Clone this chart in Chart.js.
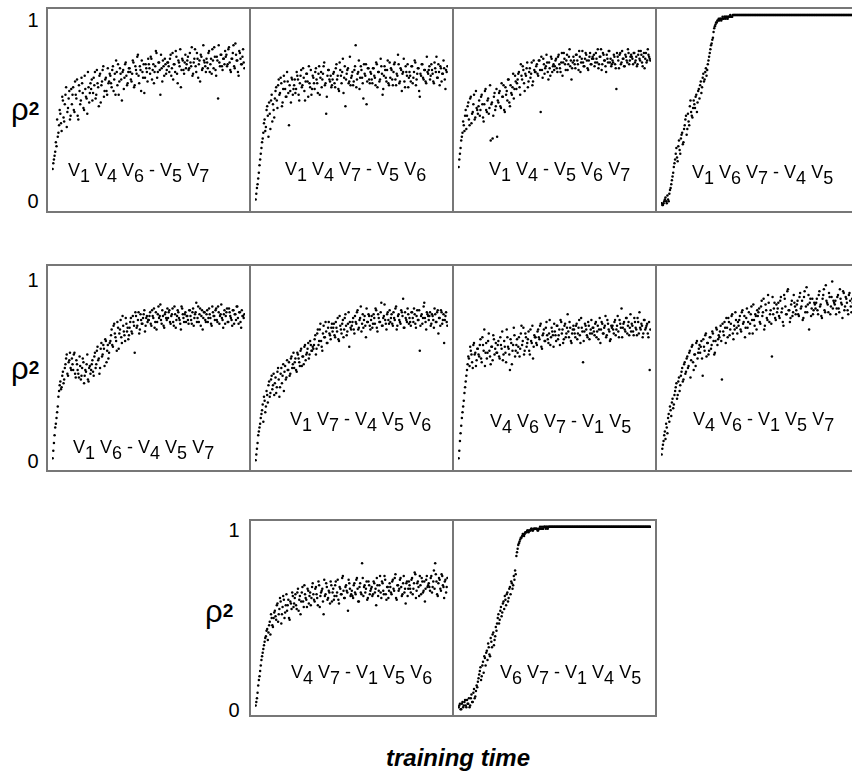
<!DOCTYPE html>
<html>
<head>
<meta charset="utf-8">
<script src="https://cdn.jsdelivr.net/npm/chart.js@4.4.1/dist/chart.umd.min.js"></script>
<style>
body { margin:0; width:852px; height:780px; overflow:hidden; background:#fff; position:relative;
  font-family:"Liberation Sans", Arial, sans-serif; color:#000; }
.panel { position:absolute; box-sizing:border-box; border:2px solid #777; }
.panel canvas { display:block; }
.lbl { position:absolute; font-size:18px; line-height:18px; white-space:nowrap; }
.lbl span { position:relative; top:6px; }
.tick { position:absolute; width:24px; text-align:center; font-size:20px; line-height:20px; }
.rho { position:absolute; font-size:31px; line-height:32px; }
.rho span { font-size:19px; font-weight:bold; vertical-align:5px; }
#xtitle { position:absolute; left:258px; width:400px; top:744px; text-align:center;
  font-size:24px; font-weight:bold; font-style:italic; }
</style>
</head>
<body>
<div id="xtitle">training time</div>
<script>
// rho^2 (in %) over training time.
// each panel: values at even time steps, then values at odd time steps

// row 1
const v146_v57 = [
19,24,28,31,36,42,48,39,55,44,58,41,51,60,47,
53,62,49,58,66,45,60,55,64,51,68,57,48,62,59,
61,55,67,70,58,64,52,69,63,71,57,66,60,72,65,
68,62,73,66,58,70,74,65,69,55,71,67,75,63,70,
72,66,69,75,63,71,78,68,73,60,70,74,67,72,65,
74,69,77,71,64,73,80,70,75,58,72,76,68,74,71,
75,70,79,72,66,74,81,69,76,73,62,77,71,75,72,
76,71,80,73,68,75,82,70,77,74,65,78,72,76,73,
77,72,81,74,69,76,83,71,78,56,75,79,73,77,74,
78,73,82,75,70,77,84,72,79,76,68,80,74,78,75];
const v146_v57_odd = [
22,26,33,45,38,50,43,57,46,53,62,49,56,45,61,
58,50,65,56,47,63,53,67,59,50,61,56,70,54,64,
66,59,63,56,71,62,68,54,65,73,60,67,58,64,69,
64,71,60,69,76,63,58,72,66,70,61,74,68,64,72,
70,65,76,62,73,69,79,64,71,76,67,59,74,70,77,
72,78,66,74,70,81,67,75,71,79,65,73,77,69,75,
73,77,68,80,74,70,78,64,75,82,71,76,69,79,74,
78,72,75,83,69,77,73,80,67,76,79,71,84,75,70,
75,80,70,77,82,72,78,68,76,84,73,79,71,77,81,
79,74,83,71,77,80,73,85,76,70,81,77,74,82,72];

const v147_v56 = [
3,9,14,21,27,33,38,45,41,52,36,48,55,44,50,
56,62,51,66,59,64,54,68,61,57,65,42,60,67,58,
63,59,70,66,55,68,62,72,60,65,69,57,64,71,61,
67,61,72,64,69,58,70,66,73,63,48,68,71,65,62,
66,70,62,74,68,60,71,64,77,67,52,69,72,65,63,
68,63,71,84,66,70,61,73,67,56,69,74,65,72,64,
69,64,72,67,75,62,70,66,73,58,68,71,65,76,63,
67,71,63,74,66,69,79,64,72,60,70,65,73,68,62,
70,65,73,67,76,63,69,72,57,68,74,66,71,64,70,
71,66,74,69,64,72,78,67,70,73,65,69,72,61,70];
const v147_v56_odd = [
6,11,17,24,30,35,43,39,50,47,54,40,58,53,46,
60,55,63,58,67,52,61,65,57,70,59,63,54,66,61,
66,61,68,58,64,71,63,67,55,69,65,73,62,58,68,
64,70,66,59,73,67,62,69,75,64,57,71,66,68,63,
69,64,72,66,61,75,68,70,59,73,66,71,64,78,67,
70,65,73,62,69,76,67,71,64,74,68,53,72,66,70,
66,72,68,63,74,70,65,77,69,61,73,67,71,64,75,
72,66,70,75,63,68,74,65,71,69,77,62,70,74,67,
68,73,64,70,75,66,72,60,69,74,67,71,65,78,69,
73,68,71,65,75,70,67,74,63,72,69,76,66,71,73];

const v14_v567 = [
20,27,34,38,42,47,40,52,45,56,43,49,58,46,51,
48,55,50,58,46,53,61,49,56,51,34,54,47,59,52,
36,54,60,51,57,63,49,58,55,66,52,59,62,56,68,
61,66,70,58,68,73,64,69,72,62,70,67,75,65,71,
70,74,68,76,49,71,77,69,73,75,66,72,78,70,74,
73,77,70,79,72,75,68,80,74,76,71,78,73,66,75,
76,72,79,74,81,70,77,75,73,80,76,71,78,74,77,
77,73,80,75,72,78,82,74,79,76,70,77,81,75,73,
76,79,74,61,78,72,80,75,77,73,79,76,82,74,78,
78,74,80,76,73,79,77,81,75,78,72,80,76,79,77];
const v14_v567_odd = [
24,30,36,44,39,50,47,54,42,57,48,53,45,60,50,
52,47,57,53,44,60,50,55,48,63,53,35,57,50,61,
55,59,52,64,57,50,62,60,66,54,63,58,69,61,65,
64,69,62,74,66,71,60,68,75,65,72,69,63,76,70,
73,69,76,71,78,67,74,72,79,70,75,68,77,73,71,
76,72,78,74,70,80,75,77,71,79,74,82,76,72,78,
74,79,76,71,78,75,81,73,77,79,72,76,80,74,78,
79,75,77,82,74,78,71,80,76,73,79,75,81,77,74,
75,78,72,80,76,79,74,81,77,73,78,75,80,76,79,
77,80,75,78,74,81,76,79,73,80,77,75,82,78,76];

const v167_v45 = [
1,0,2,4,1,3,6,9,13,17,22,27,25,31,29,
35,38,33,42,47,40,44,52,49,46,55,51,58,54,61,
63,59,67,65,70,68,74,78,82,85,88,93,95,96,97,
97,98,98,98,99,98,99,99,99,99,99,100,100,100,100,
100,100,100,100,100,100,100,100,100,100,100,100,100,100,100,
100,100,100,100,100,100,100,100,100,100,100,100,100,100,100,
100,100,100,100,100,100,100,100,100,100,100,100,100,100,100,
100,100,100,100,100,100,100,100,100,100,100,100,100,100,100,
100,100,100,100,100,100,100,100,100,100,100,100,100,100,100,
100,100,100,100,100,100,100,100,100,100,100,100,100,100,100];
const v167_v45_odd = [
0,1,3,2,5,2,8,11,15,20,24,30,23,34,27,
37,32,40,45,37,48,42,55,47,51,53,57,49,60,56,
65,62,69,66,72,71,76,80,84,87,91,94,96,97,98,
98,97,99,98,99,99,98,99,100,99,100,100,100,100,100,
100,100,100,100,100,100,100,100,100,100,100,100,100,100,100,
100,100,100,100,100,100,100,100,100,100,100,100,100,100,100,
100,100,100,100,100,100,100,100,100,100,100,100,100,100,100,
100,100,100,100,100,100,100,100,100,100,100,100,100,100,100,
100,100,100,100,100,100,100,100,100,100,100,100,100,100,100,
100,100,100,100,100,100,100,100,100,100,100,100,100,100,100];

// row 2
const v16_v457 = [
3,11,19,24,30,38,43,40,48,44,52,57,46,54,50,
55,49,58,45,52,47,56,44,50,53,46,48,57,43,51,
49,54,46,58,52,61,55,50,63,57,60,65,53,62,58,
64,70,61,73,66,59,71,68,75,63,72,67,76,69,65,
71,76,68,74,58,77,72,79,70,75,73,78,69,76,74,
75,79,72,77,81,74,70,78,76,83,73,77,71,79,75,
76,80,73,78,74,82,71,77,79,75,70,81,76,78,74,
77,73,80,75,79,72,78,84,76,74,81,77,70,79,75,
78,74,81,76,72,79,77,80,75,82,73,78,76,71,80,
77,81,74,79,76,72,80,78,75,82,73,79,71,77,76];
const v16_v457_odd = [
7,15,21,27,35,41,39,46,42,50,55,47,53,58,49,
52,57,47,54,49,45,51,46,55,42,49,52,44,50,47,
52,48,56,50,59,54,47,60,56,62,51,64,59,55,63,
67,62,72,68,64,74,60,70,66,77,69,64,73,71,67,
74,69,77,72,79,71,75,68,78,73,76,80,72,77,75,
77,73,80,76,71,79,74,82,77,75,80,72,78,76,81,
79,74,77,81,72,78,75,80,76,73,82,78,74,79,77,
75,80,77,73,81,76,79,74,82,78,72,80,76,79,74,
80,76,78,73,82,77,75,81,74,79,77,83,75,78,73,
79,74,81,77,75,80,73,78,82,76,79,74,80,77,78];

const v17_v456 = [
2,8,15,19,24,28,22,33,30,36,41,35,44,39,47,
42,37,48,44,40,50,46,38,51,45,49,53,47,56,52,
50,55,48,57,53,59,51,56,61,54,58,63,57,62,59,
60,65,57,68,62,70,64,59,72,66,69,63,74,67,71,
69,73,66,71,76,64,72,68,75,70,78,67,73,61,71,
72,76,68,74,79,70,75,82,73,71,77,66,74,78,72,
75,71,78,73,80,69,76,74,84,72,77,75,70,79,73,
74,78,72,76,81,70,77,75,73,79,86,71,76,74,78,
76,72,79,74,78,71,80,75,59,77,73,82,76,70,78,
75,79,73,77,71,78,74,80,76,72,79,75,63,77,74];
const v17_v456_odd = [
5,11,17,21,26,31,35,27,38,32,43,37,46,41,36,
45,40,50,35,47,42,52,48,44,54,49,46,55,50,58,
53,49,58,55,51,60,56,52,62,57,60,55,64,59,61,
62,67,60,70,64,73,61,68,66,74,63,71,68,65,73,
71,67,74,69,65,77,70,73,66,76,72,69,79,74,70,
74,70,77,73,80,71,76,69,78,75,72,81,74,77,70,
77,73,76,81,71,78,74,79,72,76,83,73,78,75,80,
76,73,79,75,82,72,78,74,80,77,71,79,75,81,73,
74,79,76,81,73,77,75,80,72,78,76,84,74,79,77,
77,72,78,75,81,74,79,68,76,80,73,78,75,79,72];

const v467_v15 = [
3,12,20,27,33,40,46,52,55,61,57,50,63,58,54,
60,56,65,53,62,70,58,55,64,59,52,61,67,57,63,
58,64,55,62,69,57,61,53,66,60,49,63,59,71,56,
62,58,66,60,72,64,57,68,61,65,59,70,63,55,67,
66,62,70,65,73,60,68,64,71,67,63,75,66,69,61,
69,64,72,67,62,74,70,65,73,68,78,66,71,63,70,
70,66,73,68,75,63,71,53,69,72,67,74,65,70,68,
71,67,74,69,65,76,70,73,68,72,66,75,70,64,72,
72,68,75,70,77,66,73,81,71,74,69,76,72,67,78,
73,69,76,71,67,74,79,70,72,68,75,71,73,66,49];
const v467_v15_odd = [
7,16,24,30,37,43,49,56,51,59,53,62,57,51,60,
57,62,55,66,59,51,63,58,68,56,61,54,65,60,58,
62,56,66,60,54,64,58,70,61,57,65,52,62,67,59,
65,61,56,68,62,71,59,66,63,69,57,64,72,61,66,
63,69,66,72,61,67,70,64,74,65,68,62,71,67,73,
67,72,65,70,75,68,63,72,66,71,69,74,64,68,72,
68,72,65,71,67,76,69,64,73,70,66,72,68,75,71,
69,73,66,72,70,63,74,68,71,77,67,73,69,65,71,
70,74,67,72,69,75,71,66,73,70,76,68,74,71,69,
72,67,74,70,76,68,71,73,66,75,70,72,68,74,70];

const v46_v157 = [
5,10,15,13,19,24,22,28,32,29,36,40,34,43,38,
46,50,44,53,48,56,51,59,54,62,49,57,63,55,60,
58,64,46,61,67,56,63,59,66,62,68,57,64,70,65,
66,72,44,69,74,63,71,76,67,73,78,65,70,75,68,
72,77,69,80,74,66,76,71,79,73,82,68,75,78,70,
77,81,73,85,79,70,83,76,88,74,80,56,78,84,75,
79,84,76,87,81,72,86,78,90,80,74,83,77,88,82,
80,85,77,89,82,75,87,79,92,83,70,86,81,78,84,
81,86,78,90,83,76,88,80,93,84,79,87,82,95,85,
83,78,87,81,91,84,76,89,82,86,80,88,85,79,84];
const v46_v157_odd = [
8,12,17,21,16,26,30,25,34,31,38,42,36,45,41,
48,43,52,47,55,50,58,45,61,53,57,51,64,58,62,
61,55,65,59,68,63,57,66,60,69,64,58,71,62,67,
69,64,73,67,71,76,66,74,70,77,68,72,79,71,74,
75,70,79,73,77,71,81,74,68,78,75,83,72,77,80,
79,74,82,77,86,72,80,75,84,78,73,87,81,76,83,
81,77,85,79,74,88,82,78,91,80,76,85,79,84,78,
83,78,87,81,85,76,90,82,79,88,84,77,86,80,83,
84,80,88,82,77,86,91,79,85,83,89,78,87,81,84,
85,81,88,79,86,83,90,80,87,84,78,89,82,86,81];

// row 3
const v47_v156 = [
2,6,13,18,24,29,33,37,40,44,42,48,52,46,50,
54,49,58,52,61,47,56,60,53,63,57,50,59,55,62,
58,63,55,66,60,52,64,59,68,61,56,65,62,57,67,
63,59,67,61,70,56,64,66,52,62,69,60,65,58,68,
64,60,68,62,71,58,66,63,73,61,67,65,54,69,62,
65,61,69,63,72,59,67,64,80,62,68,66,60,70,63,
66,62,70,64,57,68,65,73,61,69,63,71,60,67,65,
67,63,71,65,74,60,68,66,72,62,69,64,58,70,66,
68,64,72,66,75,61,69,67,73,63,70,65,59,71,67,
69,65,73,67,76,80,70,62,72,66,74,68,61,71,67];
const v47_v156_odd = [
4,9,16,21,27,31,35,39,43,38,46,41,50,45,53,
51,57,48,55,59,52,62,50,57,54,60,49,58,64,56,
61,57,64,54,62,59,67,56,63,60,66,58,64,61,69,
60,66,63,57,68,62,65,59,71,63,67,61,64,70,59,
66,62,70,64,60,67,63,72,65,61,68,64,71,66,63,
62,68,64,71,66,59,69,63,72,67,64,70,61,68,65,
67,63,69,66,72,62,68,64,70,65,73,63,67,61,69,
64,70,66,72,61,68,65,71,67,63,73,66,69,62,70,
66,71,63,69,74,65,70,62,68,72,64,70,66,73,68,
67,72,64,70,66,74,63,69,71,65,73,67,70,64,72];

const v67_v145 = [
1,3,0,4,2,5,1,3,6,2,8,4,11,7,13,
15,19,23,18,26,29,24,32,36,30,39,34,42,38,45,
47,52,49,56,53,59,62,57,64,61,67,70,66,73,76,
84,88,91,93,94,96,95,97,97,98,98,98,99,98,99,
99,99,98,99,99,100,99,100,99,100,100,100,100,100,100,
100,100,100,100,100,100,100,100,100,100,100,100,100,100,100,
100,100,100,100,100,100,100,100,100,100,100,100,100,100,100,
100,100,100,100,100,100,100,100,100,100,100,100,100,100,100,
100,100,100,100,100,100,100,100,100,100,100,100,100,100,100,
100,100,100,100,100,100,100,100,100,100,100,100,100,100,100];
const v67_v145_odd = [
2,0,3,1,4,2,5,3,1,6,4,9,6,10,12,
17,21,16,24,20,28,31,27,34,29,37,41,35,40,43,
50,47,54,51,58,55,60,63,59,66,63,69,68,71,74,
86,90,92,94,95,96,96,97,98,97,98,99,98,99,99,
99,98,99,100,99,99,100,100,100,99,100,100,100,100,100,
100,100,100,100,100,100,100,100,100,100,100,100,100,100,100,
100,100,100,100,100,100,100,100,100,100,100,100,100,100,100,
100,100,100,100,100,100,100,100,100,100,100,100,100,100,100,
100,100,100,100,100,100,100,100,100,100,100,100,100,100,100,
100,100,100,100,100,100,100,100,100,100,100,100,100,100,100];

// panel labels: subscripts left of the dash, right of the dash
const labelGroups = [
  [[1,4,6],[5,7]], [[1,4,7],[5,6]], [[1,4],[5,6,7]], [[1,6,7],[4,5]],
  [[1,6],[4,5,7]], [[1,7],[4,5,6]], [[4,6,7],[1,5]], [[4,6],[1,5,7]],
  [[4,7],[1,5,6]], [[6,7],[1,4,5]]
];
const series = [
  [v146_v57, v146_v57_odd], [v147_v56, v147_v56_odd], [v14_v567, v14_v567_odd], [v167_v45, v167_v45_odd],
  [v16_v457, v16_v457_odd], [v17_v456, v17_v456_odd], [v467_v15, v467_v15_odd], [v46_v157, v46_v157_odd],
  [v47_v156, v47_v156_odd], [v67_v145, v67_v145_odd]
];
const yTickLabels = ['0', '1'];

// layout: panel box [left, top, width, height], label [left, baseline]
const boxes = [
  [46,7,205,206],[249,7,205,206],[452,7,205,206],[655,7,205,206],
  [46,264,205,208],[249,264,205,208],[452,264,205,208],[655,264,205,208],
  [249,519,205,198],[452,519,205,198]
];
const labelPos = [
  [68,176],[285,175],[489,175],[692,178],
  [73,453],[290,425],[490,427],[693,425],
  [291,678],[500,678]
];
// per row: tick x centre, baseline of "0", baseline of "1", rho left, rho baseline
const rows = [
  [33,208,27,11,120],
  [33,468,287,11,379],
  [234,717,537,205,622]
];

function addDiv(cls, html, left, top) {
  const d = document.createElement('div');
  d.className = cls;
  d.innerHTML = html;
  d.style.left = left + 'px';
  d.style.top = top + 'px';
  document.body.appendChild(d);
  return d;
}

rows.forEach(r => {
  addDiv('tick', yTickLabels[0], r[0] - 12, r[1] - 17);
  addDiv('tick', yTickLabels[1], r[0] - 12, r[2] - 17);
  addDiv('rho', 'ρ<span>2</span>', r[3], r[4] - 27);
});

series.forEach((pair, k) => {
  const b = boxes[k];
  const box = document.createElement('div');
  box.className = 'panel';
  box.style.left = b[0] + 'px';
  box.style.top = b[1] + 'px';
  box.style.width = b[2] + 'px';
  box.style.height = b[3] + 'px';
  const cv = document.createElement('canvas');
  cv.width = b[2] - 4;
  cv.height = b[3] - 4;
  box.appendChild(cv);
  document.body.appendChild(box);

  const n = pair[0].length;
  const pts = [];
  pair[0].forEach((v, i) => pts.push({x: i, y: v}));
  pair[1].forEach((v, i) => pts.push({x: i + 0.5, y: v}));

  new Chart(cv, {
    type: 'scatter',
    data: {
      datasets: [{
        data: pts,
        pointRadius: 1.25,
        pointBackgroundColor: '#000',
        pointBorderWidth: 0
      }]
    },
    options: {
      responsive: false,
      animation: false,
      events: [],
      layout: { padding: 0 },
      plugins: { legend: { display: false }, tooltip: { enabled: false } },
      scales: {
        x: { type: 'linear', min: -0.5, max: n, display: false },
        y: { min: -1, max: 101, display: false }
      }
    }
  });

  const g = labelGroups[k];
  const part = a => a.map(d => 'V<span>' + d + '</span>').join(' ');
  addDiv('lbl', part(g[0]) + ' - ' + part(g[1]), labelPos[k][0], labelPos[k][1] - 15);
});
</script>
</body>
</html>
